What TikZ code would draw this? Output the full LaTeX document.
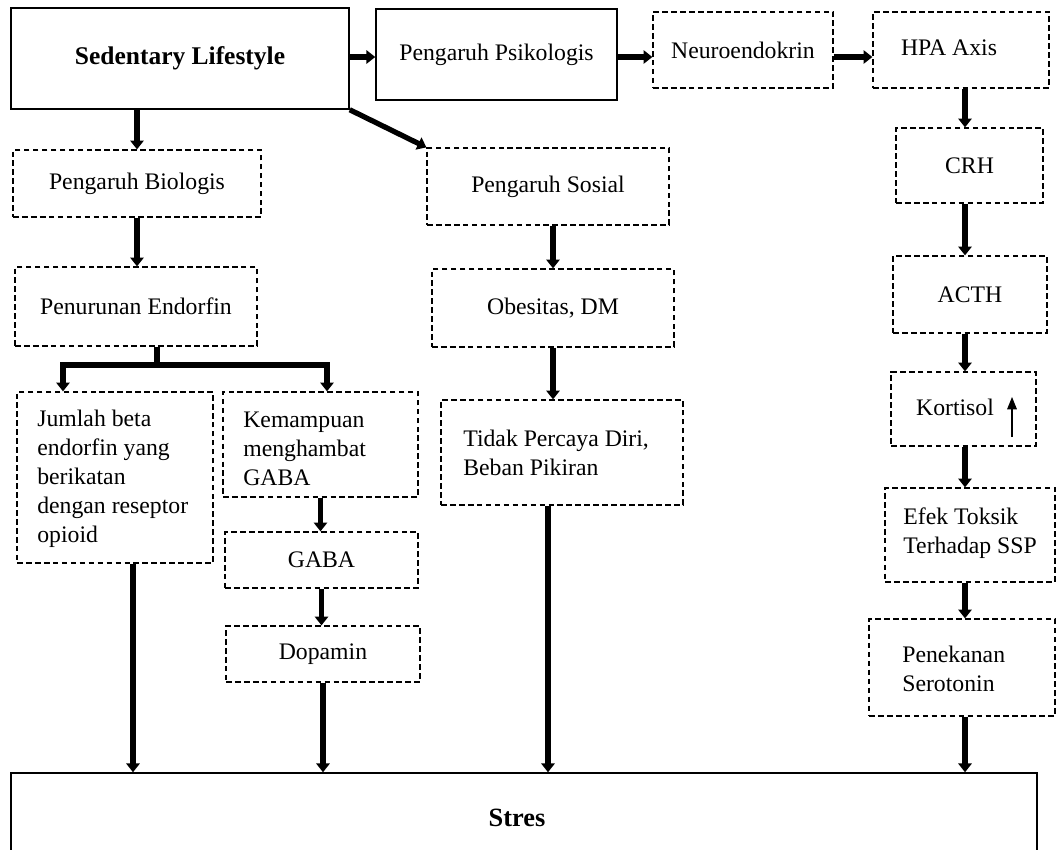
\documentclass[tikz,border=0pt]{standalone}
\usepackage{fontspec}
\setmainfont{Liberation Serif}
\usetikzlibrary{arrows.meta}

\begin{document}
\begin{tikzpicture}[x=0.02cm, y=-0.02cm,
    solidbox/.style 2 args={draw, line width=0.85pt, minimum width=#1*0.02cm, minimum height=#2*0.02cm, inner sep=0pt},
    dashbox/.style 2 args={draw, line width=0.7pt, dash pattern=on 3.2pt off 1.9pt, minimum width=#1*0.02cm, minimum height=#2*0.02cm, inner sep=0pt},
    txt/.style={font=\fontsize{13.5pt}{16.5pt}\selectfont, inner sep=0pt},
    txtl/.style={txt, align=left, anchor=west},
    bold/.style={font=\fontsize{14.5pt}{17pt}\selectfont\bfseries, inner sep=0pt},
    arr/.style={line width=3pt, solid, -{Triangle[length=5pt,width=7.5pt]}}]
    \useasboundingbox (0,0) rectangle (1057,849);
    \clip (0,0) rectangle (1057,849);

    % top row
    \node[solidbox={338}{101}, bold] (sed) at (180,58.5) {Sedentary Lifestyle};
    \node[solidbox={241}{91}, txt] (psi) at (496.5,54.5) {Pengaruh Psikologis};
    \node[dashbox={180}{76}, txt] (neu) at (743,50) {Neuroendokrin};
    \node[dashbox={176}{76}] (hpa) at (961,50) {};
    \node[txt] (hpat) at (949,48) {HPA Axis};

    % right column
    \node[dashbox={147}{75}, txt] (crh) at (969.5,165.5) {CRH};
    \node[dashbox={154}{77}, txt] (acth) at (970,294.5) {ACTH};
    \node[dashbox={145}{74}] (kor) at (963.5,409) {};
    \node[txt] (kort) at (955,407) {Kortisol};
    \node[dashbox={170}{94}] (efek) at (970,535) {};
    \node[txtl] (efekt) at (903,533.5) {Efek Toksik\\Terhadap SSP};
    \node[dashbox={186}{97}] (pen) at (962,667.5) {};
    \node[txtl] (pent) at (902,669) {Penekanan\\Serotonin};

    % left column
    \node[dashbox={248}{67}, txt] (bio) at (137,183.5) {Pengaruh Biologis};
    \node[dashbox={242}{79}, txt] (endo) at (136,306.5) {Penurunan Endorfin};
    \node[dashbox={196}{171}] (jml) at (115,477.5) {};
    \node[txtl] (jmlt) at (37,479) {Jumlah beta\\endorfin yang\\berikatan\\dengan reseptor\\opioid};
    \node[dashbox={195}{105}] (kem) at (320.5,444.5) {};
    \node[txtl] (kemt) at (243,449) {Kemampuan\\menghambat\\GABA};
    \node[dashbox={193}{56}, txt] (gaba) at (321.5,560) {GABA};
    \node[dashbox={194}{56}, txt] (dopa) at (323,654) {Dopamin};

    % middle column
    \node[dashbox={242}{77}, txt] (sos) at (548,186.5) {Pengaruh Sosial};
    \node[dashbox={242}{78}, txt] (obe) at (553,308) {Obesitas, DM};
    \node[dashbox={242}{105}] (tdk) at (562,452.5) {};
    \node[txtl] (tdkt) at (463,452.5) {Tidak Percaya Diri,\\Beban Pikiran};

    % bottom
    \node[solidbox={1026}{150}] (stres) at (524,848) {};
    \node[bold, font=\fontsize{15pt}{18pt}\selectfont\bfseries] (strest) at (517,818) {Stres};

    % arrows
    \coordinate (row) at (0,57);
    \draw[arr] (row -| sed.east) -- (row -| psi.west);
    \draw[arr] (row -| psi.east) -- (row -| neu.west);
    \draw[arr] (row -| neu.east) -- (row -| hpa.west);

    \coordinate (colR) at (965,0);
    \foreach \a/\b in {hpa/crh, crh/acth, acth/kor, kor/efek, efek/pen, pen/stres}
        \draw[arr] (colR |- \a.south) -- (colR |- \b.north);

    \coordinate (upB) at (1012,437);
    \coordinate (upT) at (1012,397);
    \draw[line width=0.6pt, -{Triangle[length=7pt,width=5.5pt]}] (upB) -- (upT);

    \draw[arr] (sed.south -| bio.north) -- (bio.north);
    \draw[arr] (bio.south) -- (bio.south |- endo.north);
    \coordinate (br) at (157,365);
    \coordinate (brL) at (63,0);
    \coordinate (brR) at (327,0);
    \draw[arr] (endo.south -| br) -- (br) -| (brL |- jml.north);
    \draw[arr] (endo.south -| br) -- (br) -| (brR |- kem.north);
    \draw[arr] (kem.south) -- (kem.south |- gaba.north);
    \draw[arr] (gaba.south) -- (gaba.south |- dopa.north);

    \draw[arr] (sed.south east) -- (sos.north west);
    \draw[arr] (sos.south -| obe.north) -- (obe.north);
    \draw[arr] (obe.south) -- (obe.south |- tdk.north);

    % into Stres
    \coordinate (colJ) at (133,0);
    \coordinate (colT) at (548,0);
    \draw[arr] (colJ |- jml.south) -- (colJ |- stres.north);
    \draw[arr] (dopa.south) -- (dopa.south |- stres.north);
    \draw[arr] (colT |- tdk.south) -- (colT |- stres.north);
\end{tikzpicture}
\end{document}
